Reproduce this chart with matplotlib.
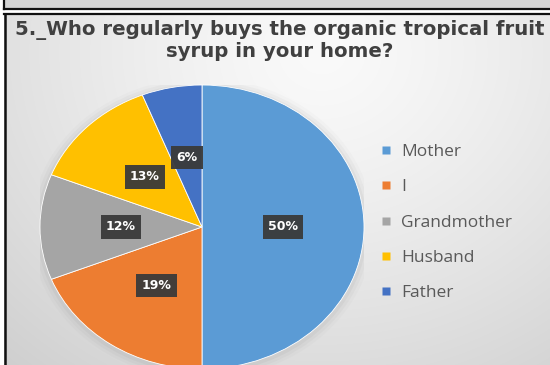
import numpy as np
import matplotlib
matplotlib.use("Agg")
import matplotlib.pyplot as plt
from matplotlib.lines import Line2D
from matplotlib.patches import Rectangle, Ellipse

# survey answers, clockwise from 12 o'clock
categories = ["Mother", "I", "Grandmother", "Husband", "Father"]
shares = [50, 19, 12, 13, 6]
colors = ["#5B9BD5", "#ED7D31", "#A5A5A5", "#FFC000", "#4472C4"]

title_lines = ["5._Who regularly buys the organic tropical fruit",
               "syrup in your home?"]

W, H = 550, 365
fig = plt.figure(figsize=(W / 100, H / 100), dpi=100)
fig.patch.set_facecolor("white")

# background layer in pixel coordinates (y downwards)
bg = fig.add_axes([0, 0, 1, 1])
bg.set_xlim(0, W)
bg.set_ylim(H, 0)
bg.axis("off")

yy, xx = np.mgrid[0:H, 0:W]
d = np.hypot(xx - 320, (yy - 40) * 1.1) / 460
shade = np.clip(0.98 - 0.16 * d ** 1.3, 0, 1)
bg.imshow(np.dstack([shade] * 3), extent=(4, W, H, 14), zorder=0,
          interpolation="bilinear", aspect="auto")

# strip of the chart above, and the frames
bg.add_patch(Rectangle((4, 0), W - 4, 9, facecolor="#d4d4d4", edgecolor="none", zorder=1))
bg.plot([4, 4], [0, 9], color="#111111", lw=1.6, zorder=2)
bg.plot([4, W], [9, 9], color="#111111", lw=1.6, zorder=2)
bg.plot([4, W], [14, 14], color="#111111", lw=1.6, zorder=2)
bg.plot([4.5, 4.5], [14, H], color="#111111", lw=1.8, zorder=2)

for line, base in zip(title_lines, [35, 57]):
    bg.text(280, base, line, ha="center", va="baseline",
            fontsize=14.2, fontweight="bold", color="#404040",
            family="DejaVu Sans", zorder=3)

# pie axes: stretched wider than tall
cx, cy, rx, ry = 202, 227, 162, 142
ax = fig.add_axes([(cx - rx) / W, 1 - (cy + ry) / H, 2 * rx / W, 2 * ry / H])
ax.patch.set_alpha(0)

# soft shadow around the disc
for k, a in zip([1.06, 1.04, 1.02], [0.03, 0.05, 0.07]):
    ax.add_patch(Ellipse((0.0, -0.01), 2 * k, 2 * k, facecolor="#777777",
                         edgecolor="none", alpha=a, zorder=0))

wedges, _, autotexts = ax.pie(
    shares, colors=colors, startangle=90, counterclock=False,
    autopct=lambda p: f"{p:.0f}%", pctdistance=0.5,
    wedgeprops=dict(edgecolor="white", linewidth=0.6),
    textprops=dict(color="white", fontsize=9, fontweight="bold",
                   family="DejaVu Sans"),
)
for t in autotexts:
    t.set_bbox(dict(boxstyle="square,pad=0.42", facecolor="#3a3a3a",
                    edgecolor="none", alpha=0.95))
    t.set_zorder(5)
ax.set_aspect("auto")
ax.set_xlim(-1, 1)
ax.set_ylim(-1, 1)
ax.axis("off")
for w in wedges:
    w.set_clip_on(False)

handles = [Line2D([], [], marker="s", linestyle="none", markersize=5.5,
                  markerfacecolor=c, markeredgecolor="none") for c in colors]
leg = fig.legend(handles, categories, loc="upper left",
                 bbox_to_anchor=(380 / W, 1 - 144 / H), frameon=False,
                 prop=dict(family="Open Sans", size=12.5), labelcolor="#595959",
                 handlelength=0.7, handletextpad=0.5, labelspacing=1.1,
                 borderaxespad=0, borderpad=0)

fig.savefig("out.png", dpi=100, facecolor="white")
